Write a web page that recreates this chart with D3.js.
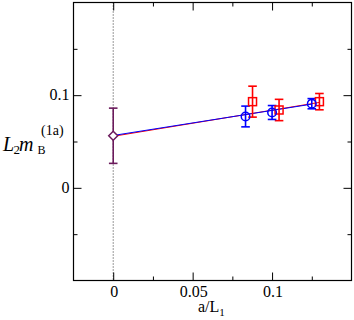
<!DOCTYPE html>
<html><head><meta charset="utf-8">
<script src="https://cdn.jsdelivr.net/npm/d3@7"></script>
<style>body{margin:0;background:#fff}svg{display:block}
svg text{font-family:"Liberation Serif","Times New Roman","DejaVu Serif",serif}</style>
</head><body>
<script>
// Data
const blueX = [0.0833, 0.1, 0.125];
const blueY = [0.0770, 0.0813, 0.0908];
const blueErr = [0.0112, 0.0075, 0.0055];
const redX = [0.0877, 0.1044, 0.1298];
const redY = [0.0930, 0.0840, 0.0930];
const redErr = [0.0167, 0.0115, 0.0088];
const contX = [0];
const contY = [0.0562];
const contErr = [0.0298];
const blueFitX = [0, 0.125];
const blueFitY = [0.0565, 0.0903];
const redFitX = [0, 0.1298];
const redFitY = [0.0556, 0.0922];
const xMajor = [0, 0.05, 0.1];
const xMajorLabels = ["0", "0.05", "0.1"];
const xMinor = [0.025, 0.075, 0.125];
const yMajor = [0, 0.1];
const yMajorLabels = ["0", "0.1"];
const yMinor = [-0.05, 0.05, 0.15];

const W = 354, H = 320;
const L = 73.5, R = 351.5, T = 2.5, B = 280.5;

const svg = d3.select("body").append("svg").attr("width", W).attr("height", H);
const x = d3.scaleLinear().domain([-0.025, 0.15]).range([L, R]);
const y = d3.scaleLinear().domain([-0.1, 0.2]).range([B, T]);

// dotted zero line
svg.append("line").attr("x1", x(0)).attr("x2", x(0)).attr("y1", T).attr("y2", B)
  .attr("stroke", "#000").attr("stroke-width", 0.8).attr("stroke-dasharray", "1,2");

// axes with inward ticks
function addAxis(axisGen, tr, vals, len) {
  const g = svg.append("g").attr("transform", tr)
    .call(axisGen.tickValues(vals).tickSize(len).tickFormat(""));
  g.select(".domain").remove();
  g.selectAll("line").attr("stroke", "#000").attr("stroke-width", 1);
  return g;
}
addAxis(d3.axisTop(x), `translate(0,${B})`, xMajor, 8);
addAxis(d3.axisTop(x), `translate(0,${B})`, xMinor, 4);
addAxis(d3.axisBottom(x), `translate(0,${T})`, xMajor, 8);
addAxis(d3.axisBottom(x), `translate(0,${T})`, xMinor, 4);
addAxis(d3.axisRight(y), `translate(${L},0)`, yMajor, 8);
addAxis(d3.axisRight(y), `translate(${L},0)`, yMinor, 4);
addAxis(d3.axisLeft(y), `translate(${R},0)`, yMajor, 8);
addAxis(d3.axisLeft(y), `translate(${R},0)`, yMinor, 4);

// frame
svg.append("rect").attr("x", L).attr("y", T).attr("width", R - L).attr("height", B - T)
  .attr("fill", "none").attr("stroke", "#000").attr("stroke-width", 1.2);

// tick labels
svg.selectAll(".xl").data(xMajor).enter().append("text")
  .attr("x", d => x(d) + 1).attr("y", 296.5).attr("text-anchor", "middle")
  .attr("font-size", 16).text((d, i) => xMajorLabels[i]);
svg.selectAll(".yl").data(yMajor).enter().append("text")
  .attr("x", 69.5).attr("y", d => y(d) + 5).attr("text-anchor", "end")
  .attr("font-size", 16).text((d, i) => yMajorLabels[i]);

// x label a/L1
const xl = svg.append("text").attr("x", 198).attr("y", 311.5).attr("font-size", 16);
xl.append("tspan").text("a/L");
xl.append("tspan").attr("font-size", 11).attr("dy", 4).text("1");

// y label
const yl = svg.append("g");
yl.append("text").attr("x", 3).attr("y", 150.7).attr("font-size", 20).attr("font-style", "italic").text("L");
yl.append("text").attr("x", 13.5).attr("y", 153.5).attr("font-size", 13).text("2");
yl.append("text").attr("x", 19).attr("y", 150.7).attr("font-size", 20).attr("font-style", "italic").text("m");
yl.append("text").attr("x", 37.5).attr("y", 153.5).attr("font-size", 12).text("B");
yl.append("text").attr("x", 41).attr("y", 134.5).attr("font-size", 14).text("(1a)");

// fit lines
const line = d3.line().x(d => x(d[0])).y(d => y(d[1]));
svg.append("path").datum(redFitX.map((v, i) => [v, redFitY[i]]))
  .attr("d", line).attr("stroke", "#ff0000").attr("stroke-width", 1).attr("fill", "none");
svg.append("path").datum(blueFitX.map((v, i) => [v, blueFitY[i]]))
  .attr("d", line).attr("stroke", "#0000ff").attr("stroke-width", 1).attr("fill", "none");

// error bars
function errBars(xs, ys, es, color, cap) {
  const g = svg.append("g").attr("stroke", color).attr("stroke-width", 1.6).attr("fill", "none");
  xs.forEach((xv, i) => {
    const cx = x(xv), y1 = y(ys[i] + es[i]), y2 = y(ys[i] - es[i]);
    g.append("line").attr("x1", cx).attr("x2", cx).attr("y1", y1).attr("y2", y2);
    g.append("line").attr("x1", cx - cap).attr("x2", cx + cap).attr("y1", y1).attr("y2", y1);
    g.append("line").attr("x1", cx - cap).attr("x2", cx + cap).attr("y1", y2).attr("y2", y2);
  });
}
errBars(redX, redY, redErr, "#ff0000", 4.3);
errBars(blueX, blueY, blueErr, "#0000ff", 4.3);
errBars(contX, contY, contErr, "#6b1a5c", 4.3);

// markers
svg.selectAll(".sq").data(redX).enter().append("rect")
  .attr("x", d => x(d) - 4).attr("y", (d, i) => y(redY[i]) - 4).attr("width", 8).attr("height", 8)
  .attr("fill", "none").attr("stroke", "#ff0000").attr("stroke-width", 1.5);
svg.selectAll(".ci").data(blueX).enter().append("circle")
  .attr("cx", d => x(d)).attr("cy", (d, i) => y(blueY[i])).attr("r", 4.3)
  .attr("fill", "none").attr("stroke", "#0000ff").attr("stroke-width", 1.5);
svg.selectAll(".dm").data(contX).enter().append("path")
  .attr("d", (d, i) => { const cx = x(d), cy = y(contY[i]), r = 4.5;
    return `M${cx},${cy - r}L${cx + r},${cy}L${cx},${cy + r}L${cx - r},${cy}Z`; })
  .attr("fill", "#fff").attr("stroke", "#6b1a5c").attr("stroke-width", 1.5);
</script>
</body></html>
